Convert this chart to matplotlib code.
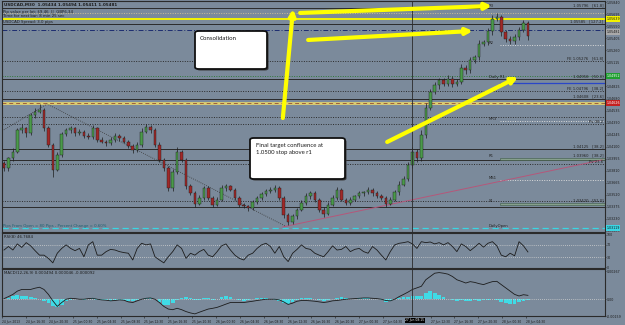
import matplotlib
matplotlib.use("Agg")
import matplotlib.pyplot as plt
from matplotlib.patches import FancyBboxPatch
import matplotlib.transforms as mtransforms
import numpy as np

W, H = 625, 325
BG = "#7b8a9b"
INK = "#1c1c1c"
GREEN = "#4a9a4a"
RED = "#a02828"

# ---- price data (M30-ish bars) ----
open0 = 1.0390
closes = [
    1.0384, 1.0396, 1.0404, 1.0430, 1.0432, 1.0426, 1.0448, 1.0452, 1.0454, 1.0432,
    1.0412, 1.0382, 1.0400, 1.0425, 1.0430, 1.0432, 1.0426, 1.0428, 1.0423, 1.0421,
    1.0432, 1.0418, 1.0416, 1.0414, 1.0418, 1.0423, 1.0420, 1.0416, 1.0411, 1.0406,
    1.0412, 1.0428, 1.0434, 1.0430, 1.0412, 1.0394, 1.0384, 1.0360, 1.0379, 1.0404,
    1.0394, 1.0362, 1.0354, 1.0341, 1.0348, 1.0360, 1.0348, 1.0340, 1.0346, 1.0360,
    1.0362, 1.0358, 1.0348, 1.0340, 1.0338, 1.0336, 1.0343, 1.0348, 1.0353, 1.0356,
    1.0358, 1.0360, 1.0348, 1.0327, 1.0319, 1.0326, 1.0334, 1.0342, 1.0350, 1.0354,
    1.0346, 1.0334, 1.0329, 1.0340, 1.0348, 1.0358, 1.0346, 1.0342, 1.0346, 1.0350,
    1.0354, 1.0355, 1.0358, 1.0354, 1.0350, 1.0348, 1.0341, 1.0346, 1.0355, 1.0364,
    1.0371, 1.0388, 1.0404, 1.0396, 1.0424, 1.0457, 1.0476, 1.0484, 1.0490, 1.0486,
    1.0492, 1.0486, 1.0488, 1.0505, 1.0502, 1.0514, 1.0518, 1.0534, 1.0536, 1.0549,
    1.0564, 1.0566, 1.0548, 1.0540, 1.0537, 1.0542, 1.0551, 1.0559, 1.0543,
]
# wick lengths in pips above / below the body
up_wick = [
    3, 2, 4, 3, 5, 2, 3, 4, 7, 2,
    3, 2, 4, 3, 2, 3, 2, 3, 2, 3,
    4, 2, 3, 2, 3, 3, 2, 3, 2, 2,
    3, 4, 3, 2, 2, 3, 2, 3, 4, 5,
    2, 2, 3, 2, 4, 3, 2, 2, 3, 4,
    3, 2, 2, 3, 2, 2, 3, 3, 2, 3,
    3, 4, 2, 2, 3, 3, 2, 3, 4, 3,
    2, 2, 3, 3, 4, 3, 2, 2, 3, 2,
    3, 2, 3, 2, 2, 3, 2, 3, 3, 4,
    3, 4, 5, 3, 6, 5, 4, 4, 3, 3,
    4, 3, 3, 5, 3, 4, 3, 4, 3, 4,
    5, 5, 3, 3, 3, 4, 3, 4, 3,
]
down_wick = [
    4, 3, 3, 2, 3, 4, 2, 3, 2, 3,
    3, 9, 2, 3, 2, 3, 3, 2, 3, 2,
    2, 3, 2, 3, 2, 2, 3, 2, 3, 4,
    3, 2, 2, 3, 3, 2, 3, 4, 3, 2,
    3, 3, 2, 4, 2, 2, 3, 3, 2, 2,
    3, 2, 3, 3, 2, 4, 2, 2, 3, 2,
    2, 3, 3, 3, 3, 2, 3, 2, 2, 3,
    3, 3, 4, 2, 2, 3, 2, 3, 2, 2,
    2, 3, 2, 3, 2, 3, 4, 2, 2, 3,
    2, 3, 4, 5, 3, 4, 3, 3, 4, 3,
    3, 4, 3, 3, 4, 3, 3, 4, 3, 3,
    4, 3, 5, 4, 3, 3, 3, 3, 4,
]
rsi = [
    53, 64, 53, 72, 61, 76, 66, 51, 37, 37,
    27, 13, 43, 58, 69, 58, 51, 58, 32, 69,
    79, 37, 37, 48, 55, 53, 48, 45, 43, 22,
    58, 74, 69, 72, 32, 22, 13, 32, 48, 69,
    58, 27, 43, 37, 48, 55, 37, 32, 48, 66,
    72, 53, 37, 27, 22, 37, 43, 58, 69, 74,
    64, 43, 64, 32, 17, 43, 55, 69, 58, 55,
    43, 37, 32, 48, 66, 53, 55, 64, 48, 55,
    58, 48, 43, 64, 53, 37, 22, 48, 69, 74,
    76, 79, 72, 58, 79, 76, 78, 72, 76, 69,
    76, 64, 48, 72, 64, 51, 62, 74, 62, 74,
    79, 66, 37, 32, 43, 35, 79, 66, 47,
]
macd_line = [
    0.00006, 0.00025, 0.00046, 0.00077, 0.00093, 0.00093, 0.00093, 0.00105, 0.00114, 0.00093,
    0.00046, -0.00015, -0.00068, -0.00031, 0.00000, 0.00009, 0.00006, 0.00000, 0.00000, 0.00006,
    0.00009, 0.00000, -0.00006, -0.00009, -0.00015, -0.00012, -0.00006, -0.00009, -0.00025, -0.00031,
    -0.00015, 0.00000, 0.00009, 0.00012, 0.00000, -0.00031, -0.00068, -0.00093, -0.00099, -0.00086,
    -0.00099, -0.00117, -0.00130, -0.00139, -0.00123, -0.00108, -0.00093, -0.00086, -0.00077, -0.00062,
    -0.00046, -0.00031, -0.00031, -0.00031, -0.00031, -0.00025, -0.00019, -0.00012, -0.00006, 0.00000,
    0.00000, 0.00000, -0.00006, -0.00025, -0.00049, -0.00037, -0.00019, -0.00012, -0.00012, -0.00015,
    -0.00019, -0.00025, -0.00031, -0.00025, -0.00015, -0.00012, -0.00006, 0.00000, 0.00003, 0.00006,
    0.00009, 0.00012, 0.00012, 0.00009, 0.00006, 0.00000, -0.00012, -0.00015, 0.00000, 0.00025,
    0.00046, 0.00068, 0.00093, 0.00108, 0.00123, 0.00185, 0.00216, 0.00247, 0.00253, 0.00247,
    0.00238, 0.00216, 0.00185, 0.00170, 0.00154, 0.00167, 0.00160, 0.00148, 0.00139, 0.00154,
    0.00167, 0.00170, 0.00139, 0.00108, 0.00077, 0.00046, 0.00031, 0.00043, 0.00037,
]
macd_hist = [
    0.00005, 0.00015, 0.00030, 0.00037, 0.00035, 0.00030, 0.00020, 0.00015, 0.00005, -0.00015,
    -0.00035, -0.00060, -0.00075, -0.00050, -0.00020, -0.00005, 0.00005, 0.00003, -0.00005, 0.00005,
    0.00010, -0.00005, -0.00010, -0.00010, -0.00012, -0.00008, -0.00005, -0.00010, -0.00015, -0.00020,
    -0.00010, 0.00005, 0.00012, 0.00015, 0.00003, -0.00025, -0.00050, -0.00055, -0.00040, -0.00010,
    0.00010, 0.00020, 0.00015, -0.00005, -0.00003, 0.00010, 0.00015, -0.00008, 0.00005, 0.00025,
    0.00035, 0.00020, 0.00005, -0.00005, -0.00015, -0.00010, 0.00005, 0.00010, 0.00015, 0.00012,
    0.00005, -0.00005, -0.00015, -0.00035, -0.00045, -0.00025, -0.00005, 0.00010, 0.00015, 0.00010,
    0.00003, -0.00005, -0.00015, -0.00010, 0.00005, 0.00015, 0.00020, 0.00010, 0.00005, 0.00005,
    0.00008, 0.00010, 0.00008, 0.00005, 0.00000, -0.00008, -0.00025, -0.00020, 0.00005, 0.00015,
    0.00020, 0.00025, 0.00028, 0.00030, 0.00035, 0.00060, 0.00075, 0.00060, 0.00040, 0.00020,
    0.00005, -0.00005, -0.00015, -0.00010, -0.00020, -0.00015, -0.00005, -0.00015, -0.00010, -0.00005,
    0.00005, -0.00005, -0.00025, -0.00040, -0.00048, -0.00045, -0.00030, -0.00015, -0.00010,
]

time_labels = ["24 Jun 2013", "24 Jun 16:30", "24 Jun 20:30", "25 Jun 00:30", "25 Jun 04:30",
               "25 Jun 08:30", "25 Jun 12:30", "25 Jun 16:30", "25 Jun 20:30", "26 Jun 00:30",
               "26 Jun 04:30", "26 Jun 08:30", "26 Jun 12:30", "26 Jun 16:30", "26 Jun 20:30",
               "27 Jun 00:30", "27 Jun 04:30", "27 Jun 12:30", "27 Jun 16:30", "27 Jun 20:30",
               "28 Jun 00:30", "28 Jun 04:30"]
price_ticks = [1.05840, 1.05695, 1.05550, 1.05405, 1.05260, 1.05115, 1.04970, 1.04825,
               1.04680, 1.04535, 1.04390, 1.04245, 1.04100, 1.03955, 1.03810, 1.03665,
               1.03520, 1.03375, 1.03230, 1.03085]

# ---- drawn objects (levels, fibo, pivots) ----
solid_levels = [1.05772, 1.05579, 1.04916, 1.04675, 1.04071, 1.03939, 1.03372]
dotted_levels = [1.05133, 1.04771, 1.04457, 1.04373, 1.03891, 1.03444]
yellow_levels = [1.05639]
pivot_level = 1.04626
tan_level = 1.05712
navy_level = 1.05507
green_level = 1.04952
open_level = 1.03119
short_white = [1.05326, 1.04409, 1.03698]
short_blue = [1.04867]
short_bands = [(1.03940, 1.03964), (1.03396, 1.03420)]
short_start = 111.7

level_text = [("1.05796   [61.8]", 1.05772), ("1.05585   [127.2]", 1.05579),
              ("FE 1.05276   [61.8]", 1.05133), ("1.04958   [50.0]", 1.04916),
              ("FE 1.04796   [38.2]", 1.04771), ("1.04608   [23.6]", 1.04675),
              ("Pv 38.2", 1.04373), ("1.04125   [38.2]", 1.04071),
              ("1.03960   [38.2]", 1.03964), ("Pv 23.6", 1.03891),
              ("1.03420   [S1.0]", 1.03420)]
pivot_text = [("R3", 1.05772), ("R2", 1.05326), ("Daily R1", 1.04916), ("MR3", 1.04409),
              ("R1", 1.03964), ("MS1", 1.03698), ("S1", 1.03420), ("DailyOpen", open_level)]

tag_prices = [1.05639, 1.05481, 1.04952, 1.04626, 1.03119]
tag_colors = ["#f2f200", "#a9a9a9", "#1f9f2f", "#c42020", "#3ad6e4"]
tag_text_colors = ["#111111", "#111111", "#ffffff", "#ffffff", "#111111"]

trend_x = [62.8, 134.7]
trend_y = [1.03131, 1.03939]
zigzag_x = [-0.45, 9.7, 63.3]
zigzag_y = [1.04289, 1.04614, 1.03143]

arrow_from = [(62.8, 1.04445), (66.7, 1.05712), (68.5, 1.05386), (86.3, 1.04156)]
arrow_to = [(65.1, 1.05760), (109.9, 1.05796), (105.6, 1.05495), (115.8, 1.04940)]

crosshair = 91.9

# ---- layout helpers (pixels -> figure) ----
BAR_PX = 4.44
X0_PX = 4.0
RIGHT_PX = 605
TICK_FS = 2.3


def rect(x0, y0, x1, y1):
    return [x0 / W, 1 - y1 / H, (x1 - x0) / W, (y1 - y0) / H]


def ftext(px, py, s, **kw):
    fig.text(px / W, 1 - py / H, s, **kw)


def style_axes(ax):
    ax.set_facecolor(BG)
    for sp in ax.spines.values():
        sp.set_color("#2a2a2a")
        sp.set_linewidth(0.8)
    ax.yaxis.tick_right()
    ax.tick_params(axis="y", labelsize=TICK_FS, length=1.0, width=0.4, pad=0.4,
                   colors=INK)
    ax.set_xlim((2 - X0_PX) / BAR_PX, (RIGHT_PX - X0_PX) / BAR_PX)


fig = plt.figure(figsize=(6.25, 3.25), dpi=100, facecolor=BG)
ax = fig.add_axes(rect(2, 1, RIGHT_PX, 232))
ax_rsi = fig.add_axes(rect(2, 233, RIGHT_PX, 268))
ax_macd = fig.add_axes(rect(2, 269, RIGHT_PX, 316))
for a in (ax, ax_rsi, ax_macd):
    style_axes(a)

x = np.arange(len(closes))
c = np.array(closes)
o = np.array([open0] + closes[:-1])
hi = np.maximum(o, c) + np.array(up_wick) * 1e-4
lo = np.minimum(o, c) - np.array(down_wick) * 1e-4

# ---- main panel ----
ax.set_ylim(1.03070, 1.05856)
ax.set_yticks(price_ticks, [f"{p:.5f}" for p in price_ticks])
ax.set_xticks([])

for p in solid_levels:
    ax.axhline(p, color="#2b2b2b", lw=0.7, zorder=1)
for p in dotted_levels:
    ax.axhline(p, color="#2b2b2b", lw=0.7, ls=(0, (1, 1.5)), zorder=1)
for p in yellow_levels:
    ax.axhline(p, color="#f4f400", lw=1.4, zorder=1)
ax.axhline(pivot_level, color="#e0d070", lw=2.0, zorder=1)
ax.axhline(pivot_level, color="#a0603a", lw=0.7, ls=(0, (4, 3)), zorder=1)
ax.axhline(tan_level, color="#cdbf95", lw=0.7, ls=(0, (1, 1.5)), zorder=1)
ax.axhline(navy_level, color="#1d2d70", lw=0.7, ls=(0, (5, 2, 1, 2)), zorder=1)
ax.axhline(green_level, color="#2f7a3a", lw=0.7, ls=(0, (1, 1.5)), zorder=1)
ax.axhline(open_level, color="#3ad6e4", lw=0.9, ls=(0, (5, 3)), zorder=1)

x_end = (RIGHT_PX - X0_PX) / BAR_PX
for p in short_white:
    ax.plot([short_start, x_end], [p, p], color="#dcdcdc", lw=0.7, ls=(0, (1, 1.5)), zorder=1)
for p in short_blue:
    ax.plot([short_start, x_end], [p, p], color="#2a46c8", lw=0.9, zorder=1)
for b0, b1 in short_bands:
    ax.fill_between([short_start, x_end], b0, b1, color="#86a08c", ec="#3f5a48", lw=0.4, zorder=1)

ax.plot(trend_x, trend_y, color="#b5577a", lw=0.7, zorder=2)
ax.plot(zigzag_x, zigzag_y, color="#3a3a3a", lw=0.6, ls=(0, (1, 1.5)), zorder=2)

# candles
ax.vlines(x, lo, hi, color=INK, lw=0.5, zorder=3)
bull = c >= o
body = np.maximum(np.abs(c - o), 0.00004)
ax.bar(x[bull], body[bull], bottom=o[bull], width=0.58, color=GREEN,
       edgecolor=INK, linewidth=0.3, zorder=4)
ax.bar(x[~bull], body[~bull], bottom=c[~bull], width=0.58, color=RED,
       edgecolor=INK, linewidth=0.3, zorder=4)

# level captions
trans_lvl = mtransforms.blended_transform_factory(ax.transAxes, ax.transData)
for s, p in level_text:
    ax.text(0.997, p + 0.00002, s, transform=trans_lvl, ha="right", va="bottom",
            fontsize=2.7, color="#222222", zorder=5)
for s, p in pivot_text:
    ax.text(short_start - 2.5, p + 0.00002, s, ha="left", va="bottom",
            fontsize=2.7, color="#222222", zorder=5)

# price tags on the right scale
for p, fc, tc in zip(tag_prices, tag_colors, tag_text_colors):
    ax.text(1.002, p, f"{p:.5f}", transform=trans_lvl, ha="left", va="center",
            fontsize=TICK_FS, color=tc, zorder=6, clip_on=False,
            bbox=dict(boxstyle="square,pad=0.2", fc=fc, ec="none"))

# yellow arrows
for (x0, y0), (x1, y1) in zip(arrow_from, arrow_to):
    ax.annotate("", xy=(x1, y1), xytext=(x0, y0),
                arrowprops=dict(arrowstyle="-|>", color="#ffff00", lw=3.0,
                                mutation_scale=9, shrinkA=0, shrinkB=0),
                zorder=7)

ax.axvline(crosshair, color="#2a2a2a", lw=0.6, zorder=5)

# ---- RSI ----
ax_rsi.set_ylim(-3, 106)
ax_rsi.set_yticks([0, 30, 70, 100], ["0", "30", "70", "100"])
ax_rsi.set_xticks([])
ax_rsi.axhline(70, color="#d0d0d0", lw=0.6, ls=(0, (1, 1.5)))
ax_rsi.axhline(30, color="#d0d0d0", lw=0.6, ls=(0, (1, 1.5)))
ax_rsi.plot(x, rsi, color=INK, lw=0.6)
ax_rsi.axvline(crosshair, color="#2a2a2a", lw=0.6)

# ---- MACD ----
ax_macd.set_ylim(-0.00159, 0.00287)
ax_macd.set_yticks([-0.00159, 0.0, 0.00267], ["-0.00159", "0.00", "0.00267"])
ax_macd.axhline(0, color="#d0d0d0", lw=0.6, ls=(0, (1, 1.5)))
ax_macd.bar(x, macd_hist, width=0.85, color="#3fdbe6", lw=0)
ax_macd.plot(x, macd_line, color=INK, lw=0.6)
ax_macd.axvline(crosshair, color="#2a2a2a", lw=0.6)

tick_px = [2, 26] + [49 + 23.85 * k for k in range(21) if k != 15]
tick_pos = [(p - X0_PX) / BAR_PX for p in tick_px]
ax_macd.set_xticks(tick_pos, time_labels, ha="left")
ax_macd.tick_params(axis="x", labelsize=2.2, length=1.5, width=0.4, pad=1.2, colors=INK)

# ---- texts ----
ftext(4, 4.5, "USDCAD,M30  1.05434 1.05494 1.05411 1.05481", fontsize=3.0,
      color=INK, va="center", fontweight="bold")
ftext(3, 12, "Pip value per lot: $9.46  ||  GBP6.34", fontsize=2.8, color=INK, va="center")
ftext(3, 16, "Time for next bar: 8 min 25 sec", fontsize=2.8, color=INK, va="center")
ftext(3, 21.5, "USDCAD Spread: 3.0 pips", fontsize=2.8, color=INK, va="center")
ftext(3, 226, "Pips From Open = 80 Pips - Percent Change = 0.60%", fontsize=2.8,
      color="#1d5f70", va="center")
ftext(4, 237, "RSI(8) 46.7684", fontsize=2.8, color=INK, va="center")
ftext(4, 273, "MACD(12,26,9) 0.000494 0.000046 -0.000092", fontsize=2.8, color=INK, va="center")
ftext(415, 320.5, "27 Jun 08:15", fontsize=2.2, color="white", ha="center", va="center",
      bbox=dict(boxstyle="square,pad=0.3", fc="#000000", ec="none"))

# note boxes
for (bx0, by0, bx1, by1) in [(195, 31, 267, 69), (250, 138, 345, 179)]:
    shadow = FancyBboxPatch(((bx0 + 1.5) / W, 1 - (by1 + 1.5) / H), (bx1 - bx0) / W,
                            (by1 - by0) / H, boxstyle="round,pad=0,rounding_size=0.006",
                            transform=fig.transFigure, fc="#3a3a3a", ec="none", zorder=8)
    box = FancyBboxPatch((bx0 / W, 1 - by1 / H), (bx1 - bx0) / W, (by1 - by0) / H,
                         boxstyle="round,pad=0,rounding_size=0.006",
                         transform=fig.transFigure, fc="white", ec="#111111", lw=1.3, zorder=9)
    fig.add_artist(shadow)
    fig.add_artist(box)

ftext(200, 36, "Consolidation", fontsize=4.4, family="Lato", color=INK, va="top", zorder=10)
ftext(256, 143, "Final target confluence at\n1.0500 stop above r1", fontsize=4.3,
      family="Lato", color=INK, va="top", linespacing=1.45, zorder=10)

fig.savefig("out.png", dpi=100, facecolor=BG)
